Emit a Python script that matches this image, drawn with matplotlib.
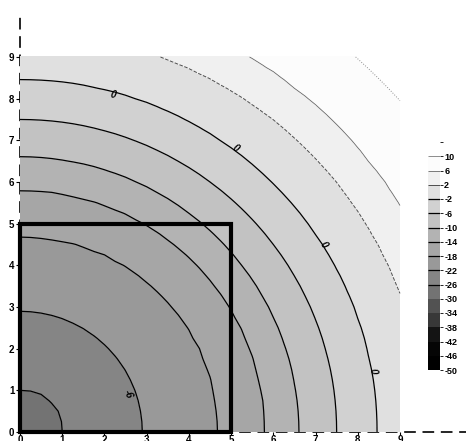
import numpy as np
import matplotlib
matplotlib.use('Agg')
import matplotlib.pyplot as plt
from matplotlib.colors import ListedColormap, BoundaryNorm
from matplotlib.patches import Rectangle

plt.rcParams['font.family'] = ['Liberation Sans', 'DejaVu Sans']
plt.rcParams['axes.unicode_minus'] = False

# contour radii (distance from origin) and the value on each
radii = [0.0, 1.0, 2.9, 4.7, 5.8, 6.6, 7.5, 8.45, 9.6, 10.5, 12.0, 13.0]
values = [-30, -26, -22, -18, -14, -10, -6, -2, 2, 6, 10, 12]

# filled bands of the colour scale and their grey level
fill_levels = list(range(-50, 15, 4))
band_greys = [0.0, 0.02, 0.08, 0.22, 0.32, 0.45, 0.52, 0.6, 0.65, 0.7,
              0.76, 0.82, 0.88, 0.94, 0.99, 1.0]
line_levels = [-26, -22, -18, -14, -10, -6, -2, 2, 6, 10]
cbar_ticks = list(range(-50, 11, 4))

# contour labels as printed
label_text = ['0', '0', '0', '0', '-6']
label_x = [2.2, 5.1, 7.2, 8.35, 2.55]
label_y = [8.1, 6.8, 4.5, 1.45, 0.9]

# highlighted square
box_xy = (0, 0)
box_side = 5

grid = np.linspace(0, 9, 37)
X, Y = np.meshgrid(grid, grid)
Z = np.interp(np.hypot(X, Y), radii, values)

cmap = ListedColormap([str(g) for g in band_greys])
norm = BoundaryNorm(fill_levels, cmap.N)

fig = plt.figure(figsize=(4.66, 4.41), dpi=100)
ax = fig.add_axes([20/466, 9/441, 446/466, 416/441])
ax.set_xlim(0, 446/42.22)
ax.set_ylim(0, 416/41.67)

cf = ax.contourf(X, Y, Z, levels=fill_levels, cmap=cmap, norm=norm, zorder=3)
styles = ['solid']*7 + ['dashed', 'solid', 'dotted']
cols = ['k']*7 + ['0.3', '0.4', '0.55']
widths = [0.9]*7 + [0.7, 0.6, 0.7]
cs = ax.contour(X, Y, Z, levels=line_levels, colors=cols,
                linestyles=styles, linewidths=widths, zorder=4)

# labels sit on the lines, turned along them
for t, x, y in zip(label_text, label_x, label_y):
    rot = np.degrees(np.arctan2(-x, y))
    ax.text(x, y, t, fontsize=7, fontweight='bold', fontstyle='italic',
            rotation=rot, ha='center', va='center', zorder=5)

ax.add_patch(Rectangle(box_xy, box_side, box_side, fill=False,
                       edgecolor='k', lw=3, zorder=6, clip_on=False))

for s in ['top', 'right']:
    ax.spines[s].set_visible(False)
for s in ['left', 'bottom']:
    ax.spines[s].set_linestyle((0, (6, 5)))
    ax.spines[s].set_linewidth(1.2)
ax.set_xticks(range(10))
ax.set_yticks(range(10))
ax.tick_params(direction='out', length=3, width=0.8, labelsize=7, pad=1)
ax.tick_params(axis='x', length=2, pad=0)
for t in ax.get_xticklabels() + ax.get_yticklabels():
    t.set_fontweight('bold')

cax = fig.add_axes([428/466, 71/441, 12/466, 228/441])
cb = fig.colorbar(cf, cax=cax, ticks=cbar_ticks)
cb.add_lines(cs)
cb.outline.set_visible(False)
cax.tick_params(length=2, width=0.6, labelsize=6.5, pad=1)
for t in cax.get_yticklabels():
    t.set_fontweight('bold')

fig.savefig('out.png', dpi=100)
